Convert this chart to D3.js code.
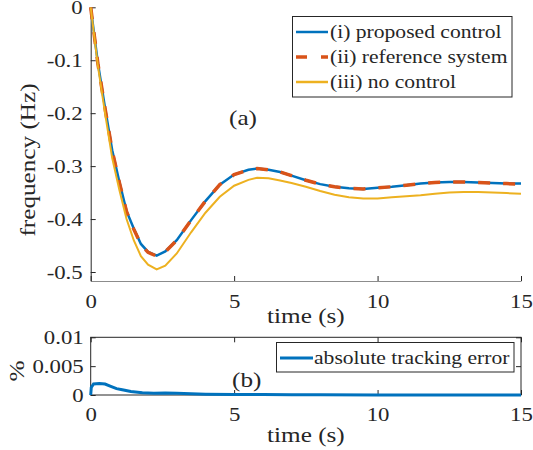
<!DOCTYPE html>
<html>
<head>
<meta charset="utf-8">
<script src="https://cdn.jsdelivr.net/npm/d3@7"></script>
<style>
  body{margin:0;background:#fff;}
  svg{display:block;font-family:"Liberation Serif","Times New Roman",serif;}
</style>
</head>
<body>
<div id="chart"></div>
<script>
// frequency response (Hz) vs time (s)
const tFreq=[0,0.25,0.5,0.75,1,1.25,1.5,1.75,2,2.3,2.6,3,3.5,4,4.5,5,5.5,5.8,6.2,6.6,7,7.5,8,8.5,9,9.5,10,10.5,11,11.5,12,12.5,13,13.5,14,14.5,15];
const proposed=[0,-0.105,-0.19,-0.27,-0.33,-0.385,-0.418,-0.447,-0.462,-0.469,-0.461,-0.44,-0.402,-0.366,-0.335,-0.316,-0.307,-0.3045,-0.307,-0.311,-0.318,-0.3266,-0.334,-0.339,-0.342,-0.343,-0.341,-0.339,-0.336,-0.333,-0.331,-0.330,-0.330,-0.331,-0.332,-0.333,-0.333];
const reference=[0,-0.106,-0.191,-0.271,-0.331,-0.386,-0.419,-0.448,-0.463,-0.470,-0.462,-0.44,-0.402,-0.366,-0.335,-0.316,-0.307,-0.3045,-0.307,-0.311,-0.318,-0.3266,-0.334,-0.339,-0.342,-0.343,-0.341,-0.339,-0.336,-0.333,-0.331,-0.330,-0.330,-0.331,-0.332,-0.333,-0.334];
const noControl=[0,-0.11,-0.20,-0.285,-0.345,-0.40,-0.44,-0.47,-0.486,-0.495,-0.488,-0.465,-0.425,-0.388,-0.358,-0.337,-0.326,-0.322,-0.323,-0.327,-0.332,-0.339,-0.347,-0.354,-0.359,-0.361,-0.361,-0.359,-0.357,-0.355,-0.352,-0.350,-0.349,-0.349,-0.350,-0.351,-0.352];

// absolute tracking error (%)
const tErr=[0,0.02,0.1,0.3,0.5,0.7,0.9,1.1,1.4,1.8,2.2,2.6,3,3.5,4,5,6,7,8,10,12,15];
const err=[0,0.0013,0.0019,0.0020,0.0019,0.0015,0.0011,0.0009,0.0006,0.0004,0.0003,0.00035,0.0003,0.0002,0.00015,0.0001,0.00008,0.00005,0.00003,0.00002,0.00001,0];

const freqTicks=[-0.5,-0.4,-0.3,-0.2,-0.1,0];
const errTicks=[0,0.005,0.01];
const timeTicks=[0,5,10,15];
const seriesNames=["(i) proposed control","(ii) reference system","(iii) no control"];

const W=533,H=450,SX=1.2,ink="#262626";
const colors=["#0072BD","#D95319","#EDB120"];

const svg=d3.select("#chart").append("svg").attr("width",W).attr("height",H);

function label(parent,s,x,y,size,anchor,rot){
    const g=parent.append("g")
        .attr("transform",`translate(${x},${y})`+(rot?` rotate(${rot})`:"")+` scale(${SX},1)`);
    g.append("text").attr("text-anchor",anchor||"start")
        .attr("font-size",size).attr("fill",ink).text(s);
}

function stretchTicks(g){
    g.selectAll(".tick text")
        .attr("font-family","Liberation Serif").attr("font-size",19).attr("fill",ink)
        .attr("transform",`scale(${SX},1)`)
        .attr("x",function(){return (+d3.select(this).attr("x")||0)/SX;});
}

const x=d3.scaleLinear().domain([0,15]).range([90.7,521]);

// ---- panel (a)
const y1=d3.scaleLinear().domain([-0.517,0]).range([281,7.3]);

const ax1=svg.append("g").attr("transform","translate(0,281)")
    .call(d3.axisBottom(x).tickValues(timeTicks).tickSizeInner(-5).tickSizeOuter(0).tickPadding(13.5));
ax1.select(".domain").attr("stroke","#8c8c8c");
ax1.selectAll(".tick line").attr("stroke",ink);
stretchTicks(ax1);

const ay1=svg.append("g").attr("transform","translate(90.7,0)")
    .call(d3.axisLeft(y1).tickValues(freqTicks).tickFormat(d=>d===0?"0":d.toFixed(1))
        .tickSizeInner(-5).tickSizeOuter(0).tickPadding(8));
ay1.select(".domain").attr("stroke",ink);
ay1.selectAll(".tick line").attr("stroke",ink);
stretchTicks(ay1);

const line1=d3.line().x((d,i)=>x(tFreq[i])).y(d=>y1(d));
svg.append("path").datum(proposed).attr("d",line1)
    .attr("fill","none").attr("stroke",colors[0]).attr("stroke-width",2.5);
svg.append("path").datum(reference).attr("d",line1)
    .attr("fill","none").attr("stroke",colors[1]).attr("stroke-width",3.5)
    .attr("stroke-dasharray","12,13");
svg.append("path").datum(noControl).attr("d",line1)
    .attr("fill","none").attr("stroke",colors[2]).attr("stroke-width",2);

label(svg,"frequency (Hz)",35,160,21,"middle",-90);
label(svg,"time (s)",305.9,323,21,"middle");
label(svg,"(a)",229,125,21,"start");

// legend (a)
const leg=svg.append("g");
leg.append("rect").attr("x",292.5).attr("y",16.5).attr("width",219.5).attr("height",80.5)
    .attr("fill","#fff").attr("stroke",ink).attr("stroke-width",1);
seriesNames.forEach((s,i)=>{
    const cy=32+i*25;
    leg.append("line").attr("x1",296).attr("x2",328).attr("y1",cy).attr("y2",cy)
        .attr("stroke",colors[i]).attr("stroke-width",i===1?3.5:2.5)
        .attr("stroke-dasharray",i===1?"11,14":null);
    label(leg,s,330,cy+6,18,"start");
});

// ---- panel (b)
const y2=d3.scaleLinear().domain([0,0.01]).range([395,337.3]);

svg.append("rect").attr("x",90.7).attr("y",337.3).attr("width",521-90.7).attr("height",395-337.3)
    .attr("fill","none").attr("stroke",ink).attr("stroke-width",1);

const ax2=svg.append("g").attr("transform","translate(0,395)")
    .call(d3.axisBottom(x).tickValues(timeTicks).tickSizeInner(-5).tickSizeOuter(0).tickPadding(13));
ax2.select(".domain").remove();
ax2.selectAll(".tick line").attr("stroke",ink);
stretchTicks(ax2);

const ax2top=svg.append("g").attr("transform","translate(0,337.3)")
    .call(d3.axisTop(x).tickValues(timeTicks).tickSizeInner(-5).tickSizeOuter(0).tickFormat(""));
ax2top.select(".domain").remove();
ax2top.selectAll(".tick line").attr("stroke",ink);

const ay2=svg.append("g").attr("transform","translate(90.7,0)")
    .call(d3.axisLeft(y2).tickValues(errTicks).tickFormat(d=>d===0?"0":String(d))
        .tickSizeInner(-5).tickSizeOuter(0).tickPadding(7));
ay2.select(".domain").remove();
ay2.selectAll(".tick line").attr("stroke",ink);
stretchTicks(ay2);

const ay2r=svg.append("g").attr("transform","translate(521,0)")
    .call(d3.axisRight(y2).tickValues(errTicks).tickSizeInner(-5).tickSizeOuter(0).tickFormat(""));
ay2r.select(".domain").remove();
ay2r.selectAll(".tick line").attr("stroke",ink);

const line2=d3.line().x((d,i)=>x(tErr[i])).y(d=>y2(d));
svg.append("path").datum(err).attr("d",line2)
    .attr("fill","none").attr("stroke",colors[0]).attr("stroke-width",3);

label(svg,"%",24,371,21,"middle",-90);
label(svg,"time (s)",305.9,441.5,21,"middle");
label(svg,"(b)",232,387,21,"start");

// legend (b)
const leg2=svg.append("g");
leg2.append("rect").attr("x",276.5).attr("y",342.5).attr("width",237.5).attr("height",29.5)
    .attr("fill","#fff").attr("stroke",ink).attr("stroke-width",1);
leg2.append("line").attr("x1",280).attr("x2",313).attr("y1",358).attr("y2",358)
    .attr("stroke",colors[0]).attr("stroke-width",3);
label(leg2,"absolute tracking error",314,364,18,"start");
</script>
</body>
</html>
